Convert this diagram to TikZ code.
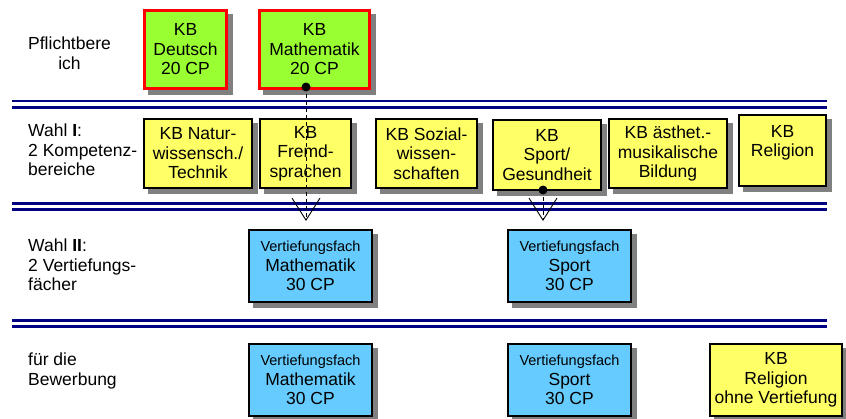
\documentclass[tikz,border=0pt]{standalone}
\usepackage{fontspec}
\setmainfont{Liberation Sans}
\usetikzlibrary{arrows.meta,positioning,backgrounds}
\definecolor{kbgreen}{RGB}{153,255,51}
\definecolor{kbred}{RGB}{255,0,0}
\definecolor{kbyellow}{RGB}{255,255,102}
\definecolor{kbblue}{RGB}{102,204,255}
\definecolor{kbnavy}{RGB}{0,0,128}
\definecolor{kbshadow}{RGB}{128,128,128}
\newcommand{\vfach}{{\fontsize{14.5}{19}\selectfont Vertiefungsfach}}

\tikzset{
  box/.style={draw=black, line width=1.6pt, inner sep=0pt, align=center,
    font=\fontsize{17.5}{19.5}\selectfont},
  pflicht/.style={box, fill=kbgreen, draw=kbred, line width=2.8pt},
  kbbox/.style={box, fill=kbyellow},
  vbox/.style={box, fill=kbblue},
  rowlabel/.style={anchor=west, inner sep=0pt, align=left,
    font=\fontsize{17.5}{19.5}\selectfont},
  sepline/.style={draw=kbnavy, line width=2.5pt, double=white, double distance=3.8pt},
  conn/.style={dash pattern=on 4pt off 3pt, line width=0.9pt, shorten >=8pt,
    -{Straight Barb[length=22pt, width=28pt, line width=0.9pt]}}
}

\begin{document}
\begin{tikzpicture}[x=1pt, y=-1pt]
    \useasboundingbox (0,0) rectangle (846,418);
    % row labels
    \node[rowlabel, align=center] (lpf) at (28,53) {Pflichtbere\\ich};
    \node[rowlabel] (lw1) at (28,150) {Wahl \textbf{I}:\\2 Kompetenz-\\bereiche};
    \node[rowlabel] (lw2) at (28,265) {Wahl \textbf{II}:\\2 Vertiefungs-\\fächer};
    \node[rowlabel] (lbw) at (28,371) {für die\\Bewerbung};
    % separators
    \foreach \y in {104.2,206.4,323.5}
        \draw[sepline] (12,\y) -- (827,\y);
    % Pflichtbereich
    \node[pflicht, minimum width=82pt, minimum height=78pt] (kbd) at (185.5,49.5) {KB\\Deutsch\\20 CP};
    \node[pflicht, minimum width=110pt, minimum height=78pt] (kbm) at (314.5,49.5) {KB\\Mathematik\\20 CP};
    % Wahl I
    \node[kbbox, minimum width=108.5pt, minimum height=69.5pt] (kbn) at (198,153.5) {KB Natur-\\wissensch./\\Technik};
    \node[kbbox, minimum width=91.5pt, minimum height=69.5pt] (kbf) at (305.5,153.5) {KB\\Fremd-\\sprachen};
    \node[kbbox, minimum width=101.5pt, minimum height=69.5pt] (kbs) at (426.5,153.5) {KB Sozial-\\wissen-\\schaften};
    \node[kbbox, minimum width=108.5pt, minimum height=70.5pt] (kbsp) at (547,155) {KB\\Sport/\\Gesundheit};
    \node[kbbox, minimum width=118.5pt, minimum height=69.5pt] (kba) at (668,153.5) {KB ästhet.-\\musikalische\\Bildung};
    \node[kbbox, minimum width=87.5pt, minimum height=71.5pt] (kbr) at (782.5,150.5) {KB\\Religion\\~};
    % Wahl II
    \node[vbox, minimum width=123.5pt, minimum height=72.5pt] (vm) at (310.5,266) {\vfach\\Mathematik\\30 CP};
    \node[vbox, minimum width=123.5pt, minimum height=72.5pt] (vs) at (569.5,266) {\vfach\\Sport\\30 CP};
    % fuer die Bewerbung
    \node[vbox, minimum width=123.5pt, minimum height=72.5pt] (vmb) at (310.5,380) {\vfach\\Mathematik\\30 CP};
    \node[vbox, minimum width=123.5pt, minimum height=72.5pt] (vsb) at (569.5,380) {\vfach\\Sport\\30 CP};
    \node[kbbox, minimum width=132.5pt, minimum height=72.5pt] (kbro) at (776,380) {KB\\Religion\\ohne Vertiefung};
    % shadows
    \begin{scope}[on background layer]
        \foreach \n in {kbd,kbm,kbn,kbf,kbs,kbsp,kba,kbr,vm,vs,vmb,vsb,kbro}
            \fill[kbshadow] ([shift={(5pt,-5pt)}]\n.south west) rectangle ([shift={(5pt,-5pt)}]\n.north east);
    \end{scope}
    % connectors
    \coordinate (dm) at (306,87);
    \coordinate (ds) at (543,190);
    \draw[conn] (dm) -- (dm |- vm.north);
    \draw[conn] (ds) -- (ds |- vs.north);
    \fill (dm) circle (4.5pt);
    \fill (ds) circle (4.5pt);
\end{tikzpicture}
\end{document}
